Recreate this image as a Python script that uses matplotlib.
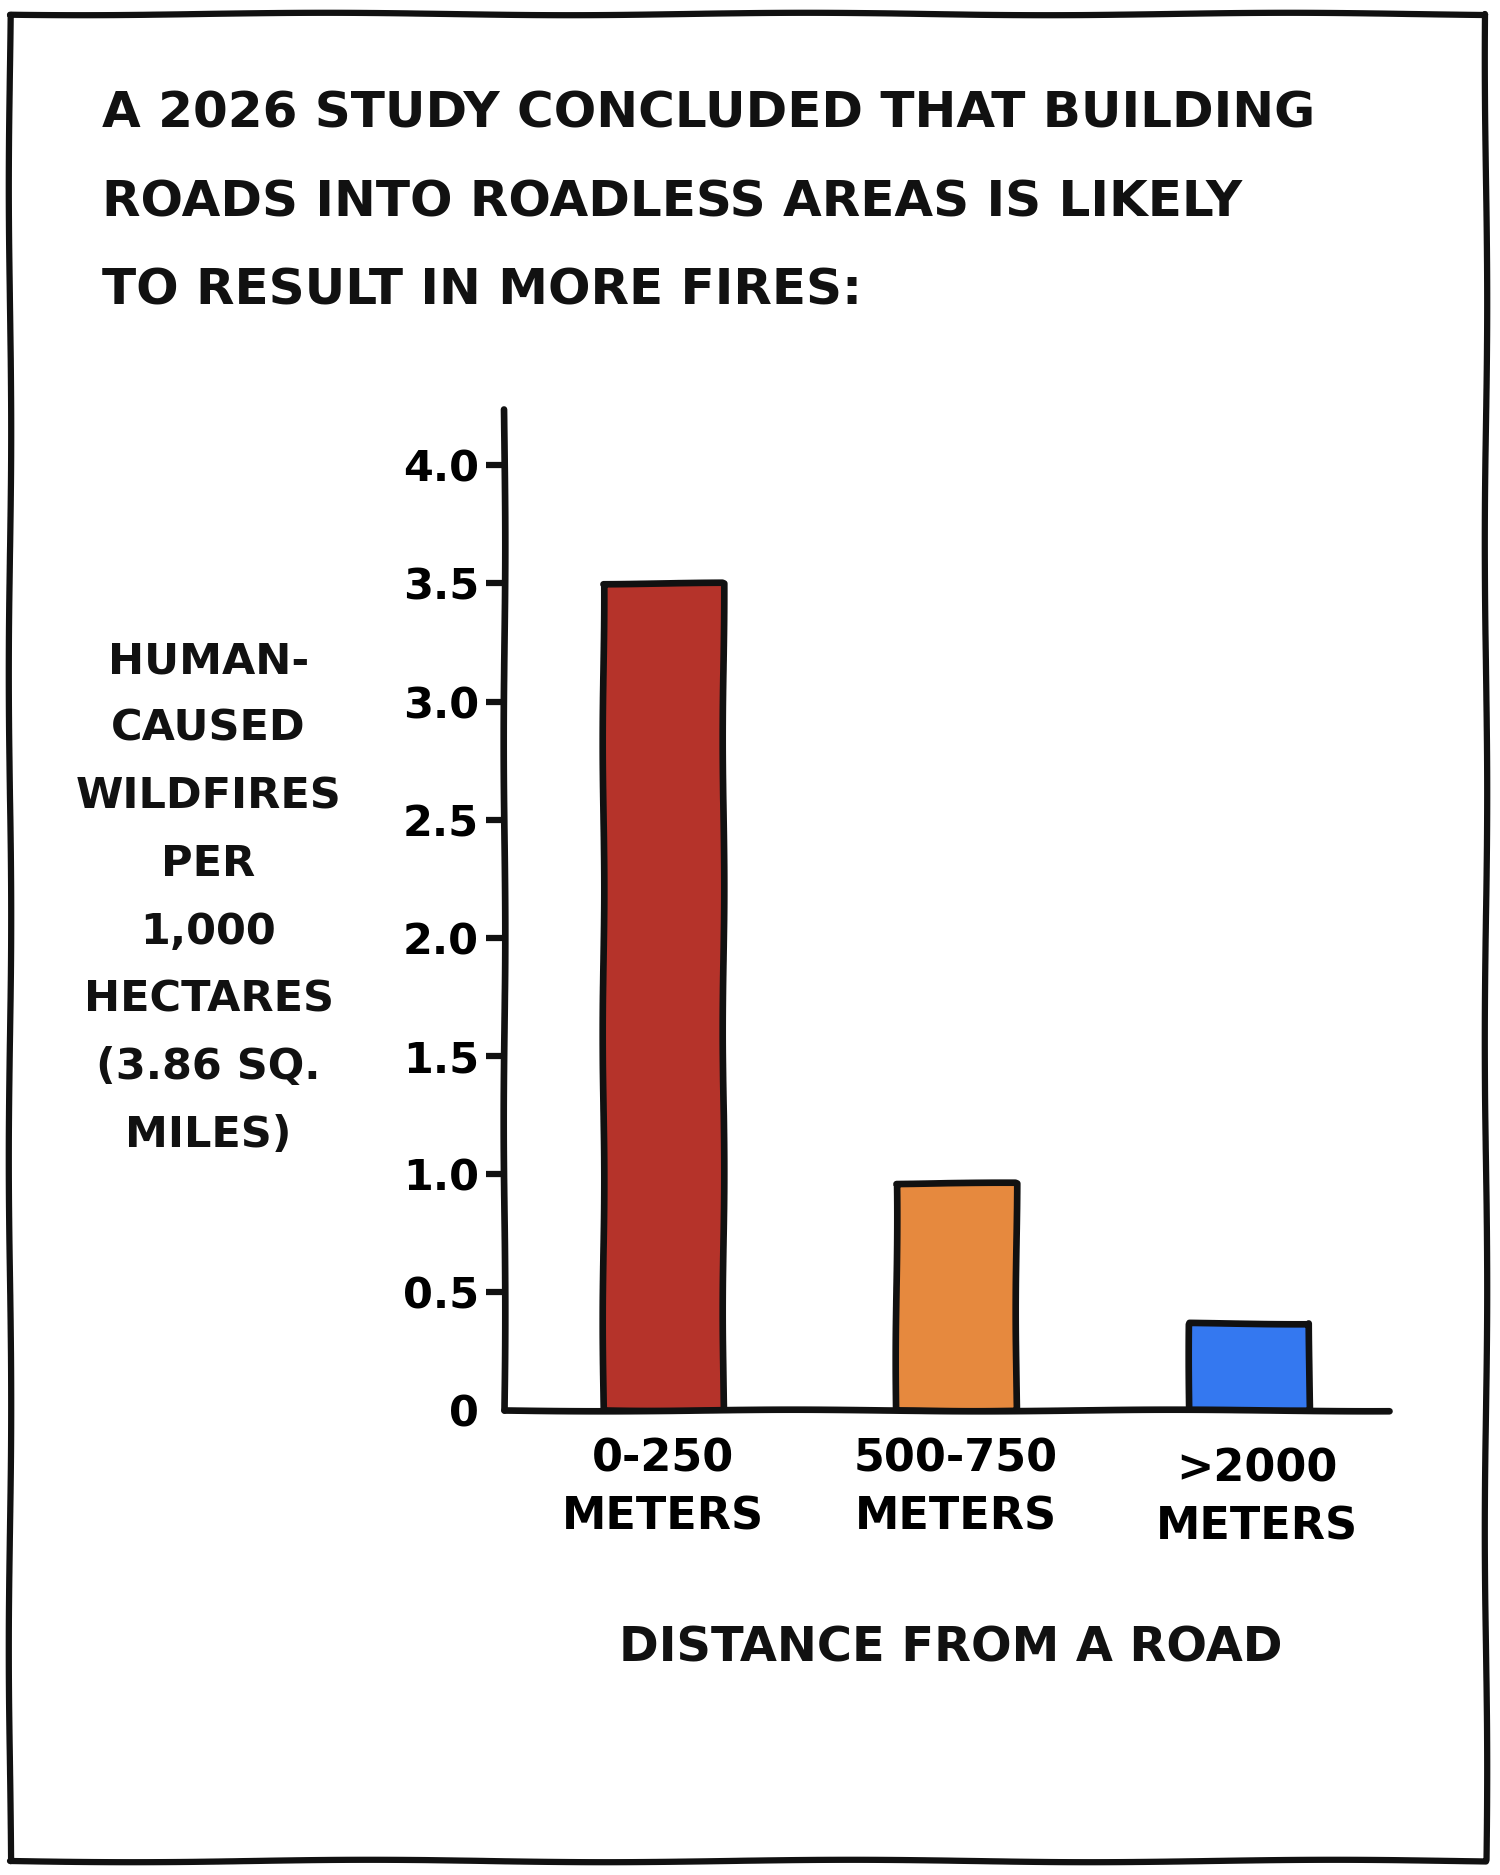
import matplotlib
matplotlib.use('Agg')
import matplotlib.pyplot as plt
from matplotlib.patches import Rectangle
from matplotlib.transforms import ScaledTranslation

# Datos del grafico
categorias = ['0-250\nMETERS', '500-750\nMETERS', '>2000\nMETERS']
incendios = [3.5, 0.96, 0.37]
colores = ['#B5332A', '#E6893E', '#3478F0']
ticks_y = [0, 0.5, 1.0, 1.5, 2.0, 2.5, 3.0, 3.5, 4.0]
etiquetas_y = ['0', '0.5', '1.0', '1.5', '2.0', '2.5', '3.0', '3.5', '4.0']

titulo = ('A 2026 STUDY CONCLUDED THAT BUILDING\n'
          'ROADS INTO ROADLESS AREAS IS LIKELY\n'
          'TO RESULT IN MORE FIRES:')
etiqueta_y = 'HUMAN-\nCAUSED\nWILDFIRES\nPER\n1,000\nHECTARES\n(3.86 SQ.\nMILES)'
etiqueta_x = 'DISTANCE FROM A ROAD'

plt.rcParams['font.family'] = ['DejaVu Sans']
plt.rcParams['font.weight'] = 'bold'

negro = '#111111'
grosor = 4.8

fig = plt.figure(figsize=(15, 18.75), dpi=100)
fig.patch.set_facecolor('white')

# Marco dibujado a mano
marco = Rectangle((0.0067, 0.0075), 0.984, 0.985, transform=fig.transFigure,
                  fill=False, edgecolor=negro, linewidth=4.5, joinstyle='round')
marco.set_sketch_params(scale=1.2, length=500, randomness=1.5)
fig.patches.append(marco)

ax = fig.add_axes([0.336, 0.248, 0.590, 0.534])
x = list(range(len(categorias)))
barras = ax.bar(x, incendios, width=0.41, color=colores, edgecolor=negro,
                linewidth=grosor, zorder=3)
for b in barras:
    b.set_joinstyle('round')
    b.set_sketch_params(scale=0.8, length=300, randomness=1.5)

ax.set_xlim(-0.543, 2.478)
ax.set_ylim(0, 4.24)

for lado in ['top', 'right']:
    ax.spines[lado].set_visible(False)
for lado in ['left', 'bottom']:
    ax.spines[lado].set_linewidth(grosor)
    ax.spines[lado].set_color(negro)
    ax.spines[lado].set_capstyle('round')
    ax.spines[lado].set_sketch_params(scale=0.8, length=400, randomness=1.5)
ax.spines['bottom'].set_zorder(4)

ax.set_yticks(ticks_y)
ax.set_yticklabels(etiquetas_y, fontsize=31, fontweight='bold')
ax.tick_params(axis='y', length=13, width=4.5, pad=5, color=negro)
ax.yaxis.get_major_ticks()[0].tick1line.set_visible(False)

ax.set_xticks(x)
ax.set_xticklabels(categorias, fontsize=32, fontweight='bold', linespacing=1.42)
ax.tick_params(axis='x', length=0, pad=20)
# la ultima etiqueta esta un poco mas abajo y a la derecha
ult = ax.get_xticklabels()[-1]
ult.set_transform(ult.get_transform() + ScaledTranslation(0.08, -0.1, fig.dpi_scale_trans))

# Titulo
fig.text(0.068, 0.952, titulo, fontsize=36, fontweight='bold', ha='left',
         va='top', linespacing=2.06, color=negro)

# Etiqueta del eje y
fig.text(0.139, 0.521, etiqueta_y, fontsize=31, fontweight='bold', ha='center',
         va='center', linespacing=1.78, color=negro)

# Etiqueta del eje x
fig.text(0.634, 0.121, etiqueta_x, fontsize=34.5, fontweight='bold', ha='center',
         va='center', color=negro)

fig.savefig('out.png', dpi=100, facecolor='white')
